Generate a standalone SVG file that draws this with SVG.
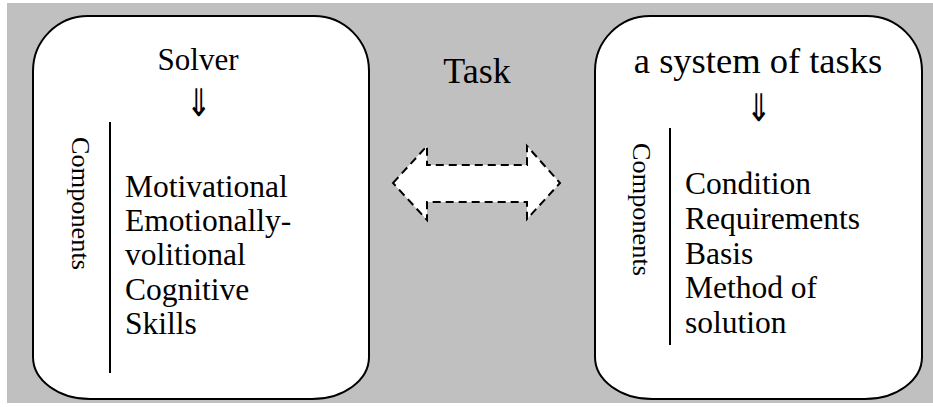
<svg xmlns="http://www.w3.org/2000/svg" width="933" height="407" viewBox="0 0 933 407">
<style>
.box{fill:#fff;stroke:#000;stroke-width:2}
.t{font-family:"Liberation Serif","Times New Roman",serif;fill:#000}
.item{font-size:31.5px}
.comp{font-size:25px}
.dn{font-family:"DejaVu Sans","Noto Sans CJK JP",sans-serif;font-size:30px;font-weight:200}
.bar{stroke:#000;stroke-width:2}
.arrow{fill:#fff;stroke:#000;stroke-width:2;stroke-dasharray:8 5}
</style>
<rect x="7" y="3" width="926" height="400" fill="#c0c0c0"/>
<g id="solver">
<path class="box" d="M88,16 H314 A55,55 0 0 1 369,71 V357 A57,42 0 0 1 312,399 H90 A57,42 0 0 1 33,357 V71 A55,55 0 0 1 88,16 Z"/>
<text class="t" x="198" y="70" font-size="31" text-anchor="middle">Solver</text>
<text class="dn" transform="translate(198,116) scale(1,1.25)" text-anchor="middle">⇓</text>
<line class="bar" x1="110" y1="122" x2="110" y2="373"/>
<text class="t comp" transform="translate(72,137) rotate(90)" textLength="133" lengthAdjust="spacingAndGlyphs">Components</text>
<text class="t item" x="125" y="197">Motivational</text>
<text class="t item" x="125" y="231">Emotionally-</text>
<text class="t item" x="125" y="265">volitional</text>
<text class="t item" x="125" y="300">Cognitive</text>
<text class="t item" x="125" y="334">Skills</text>
</g>
<g id="task">
<text class="t" x="477" y="83" font-size="36" text-anchor="middle">Task</text>
</g>
<g id="system">
<path class="box" d="M650,16 H867 A55,55 0 0 1 922,71 V357 A57,42 0 0 1 865,399 H652 A57,42 0 0 1 595,357 V71 A55,55 0 0 1 650,16 Z"/>
<text class="t" x="758" y="73" font-size="36.5" text-anchor="middle">a system of tasks</text>
<text class="dn" transform="translate(758,121) scale(1,1.25)" text-anchor="middle">⇓</text>
<line class="bar" x1="670" y1="128" x2="670" y2="345"/>
<text class="t comp" transform="translate(633,143) rotate(90)" textLength="133" lengthAdjust="spacingAndGlyphs">Components</text>
<text class="t item" x="685" y="194">Condition</text>
<text class="t item" x="685" y="229">Requirements</text>
<text class="t item" x="685" y="264">Basis</text>
<text class="t item" x="685" y="298">Method of</text>
<text class="t item" x="685" y="333">solution</text>
</g>
<g id="connectors">
<path class="arrow" d="M393,183 L427,146 V165 H527 V146 L560,183 L527,219 V202 H427 V220 Z"/>
</g>
</svg>
